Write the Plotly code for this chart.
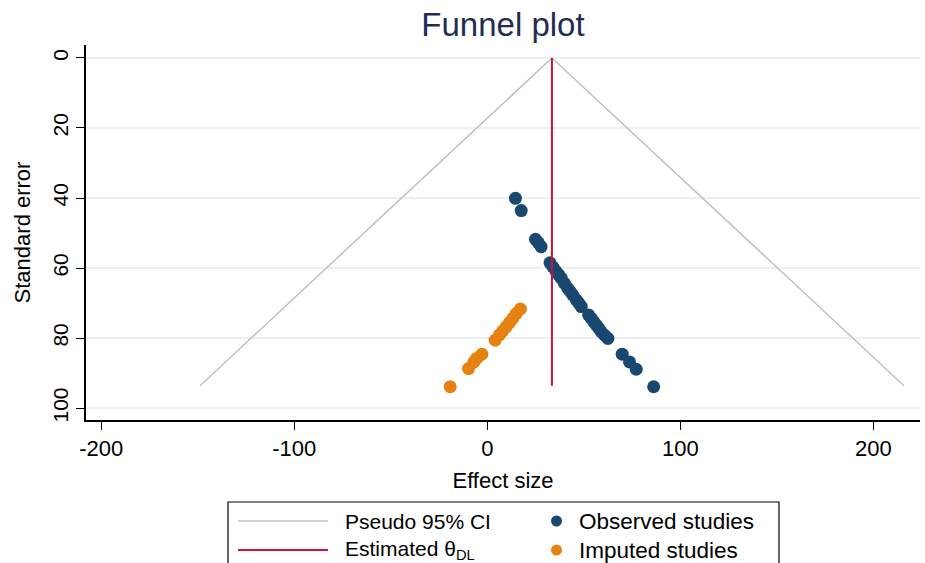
import plotly.graph_objects as go

# ---- data ----
ci_x = [-148.8, 33.5, 215.9]
ci_se = [93.6, 0.0, 93.6]

theta_x = [33.5, 33.5]
theta_se = [0.0, 93.6]

obs_es = [14.6, 17.6, 25.0, 26.5, 27.9, 32.5, 34.0, 35.7, 37.0, 38.3, 40.0, 41.7, 43.0,
          44.3, 46.1, 47.4, 48.7, 52.5, 53.9, 55.2, 56.5, 57.8, 59.0, 60.8, 62.5,
          69.9, 73.7, 77.2, 86.2]
obs_se = [40.1, 43.6, 51.8, 52.8, 53.9, 58.5, 59.7, 61.0, 61.9, 62.9, 64.4, 65.8, 66.7,
          67.7, 69.1, 70.0, 71.0, 73.4, 74.4, 75.4, 76.3, 77.2, 78.2, 79.2, 80.1,
          84.6, 86.8, 88.9, 93.9]

imp_es = [17.2, 15.0, 13.2, 11.5, 9.8, 8.0, 6.3, 4.1, -2.8, -5.5, -7.0, -9.7, -19.2]
imp_se = [71.7, 73.0, 74.4, 75.6, 76.8, 78.0, 79.1, 80.6, 84.6, 85.8, 86.9, 88.7, 93.9]

x_ticks = [-200, -100, 0, 100, 200]
y_ticks = [0, 20, 40, 60, 80, 100]

legend_labels = ["Pseudo 95% CI", "Estimated θ<sub>DL</sub>", "Observed studies", "Imputed studies"]

# ---- styles ----
C_CI = "#c0c0c0"
C_RED = "#c8143c"
C_OBS = "#1a476f"
C_IMP = "#e58210"
FONT = "Liberation Sans, Arial, sans-serif"

W, H = 925, 563
ML, MR, MT, MB = 86, 5, 45, 143
PW, PH = W - ML - MR, H - MT - MB


def px(xp):
    return (xp - ML) / PW


def py(yp):
    return (H - MB - yp) / PH


fig = go.Figure()
fig.add_trace(go.Scatter(x=ci_x, y=ci_se, mode="lines", line=dict(color=C_CI, width=1.5),
                         name=legend_labels[0], showlegend=False, hoverinfo="skip"))
fig.add_trace(go.Scatter(x=obs_es, y=obs_se, mode="markers",
                         marker=dict(color=C_OBS, size=13, line=dict(width=0)),
                         name=legend_labels[2], showlegend=False))
fig.add_trace(go.Scatter(x=imp_es, y=imp_se, mode="markers",
                         marker=dict(color=C_IMP, size=13, line=dict(width=0)),
                         name=legend_labels[3], showlegend=False))
fig.add_trace(go.Scatter(x=theta_x, y=theta_se, mode="lines", line=dict(color=C_RED, width=2),
                         name=legend_labels[1], showlegend=False))

shapes = []
annotations = []
# legend box
shapes.append(dict(type="rect", xref="paper", yref="paper",
                   x0=px(228), x1=px(779), y0=py(580), y1=py(502),
                   line=dict(color="black", width=1.2), fillcolor="white", layer="above"))
rows = [521, 550]
# left column: lines
for yy, col, lab in [(rows[0], C_CI, legend_labels[0]), (rows[1], C_RED, legend_labels[1])]:
    shapes.append(dict(type="line", xref="paper", yref="paper",
                       x0=px(238), x1=px(328), y0=py(yy), y1=py(yy),
                       line=dict(color=col, width=1.5 if col == C_CI else 2)))
    annotations.append(dict(xref="paper", yref="paper", x=px(343), y=py(yy), text=lab,
                            showarrow=False, xanchor="left", yanchor="middle",
                            font=dict(family=FONT, size=21, color="black")))
# right column: markers
for yy, col, lab in [(rows[0], C_OBS, legend_labels[2]), (rows[1], C_IMP, legend_labels[3])]:
    shapes.append(dict(type="circle", xref="paper", yref="paper",
                       x0=px(551), x1=px(562), y0=py(yy + 5.5), y1=py(yy - 5.5),
                       line=dict(width=0), fillcolor=col))
    annotations.append(dict(xref="paper", yref="paper", x=px(577), y=py(yy), text=lab,
                            showarrow=False, xanchor="left", yanchor="middle",
                            font=dict(family=FONT, size=22.5, color="black")))

fig.update_layout(
    width=W, height=H,
    margin=dict(l=ML, r=MR, t=MT, b=MB),
    paper_bgcolor="white", plot_bgcolor="white",
    font=dict(family=FONT, size=20, color="black"),
    title=dict(text="Funnel plot", x=(ML + PW / 2) / W, xanchor="center",
               y=1 - 24 / H, yanchor="middle",
               font=dict(family=FONT, size=33, color="#1f2d55")),
    showlegend=False,
    shapes=shapes,
    annotations=annotations,
    xaxis=dict(range=[-207.9, 224.2], tickvals=x_ticks, ticktext=[str(v) for v in x_ticks],
               showgrid=False, zeroline=False, showline=True, linecolor="black", linewidth=1.5,
               ticks="outside", ticklen=8, tickwidth=1.2, tickcolor="black",
               tickfont=dict(family=FONT, size=22),
               title=dict(text="Effect size", font=dict(family=FONT, size=22), standoff=12)),
    yaxis=dict(range=[103.4, -3.7], tickvals=y_ticks, ticktext=[str(v) for v in y_ticks],
               showgrid=True, gridcolor="#eaf0f3", gridwidth=1.5, zeroline=False,
               showline=True, linecolor="black", linewidth=1.5,
               ticks="outside", ticklen=8, tickwidth=1.2, tickcolor="black",
               tickangle=-90, tickfont=dict(family=FONT, size=21),
               title=dict(text="Standard error", font=dict(family=FONT, size=22), standoff=12)),
)

fig.write_html("out.html")
